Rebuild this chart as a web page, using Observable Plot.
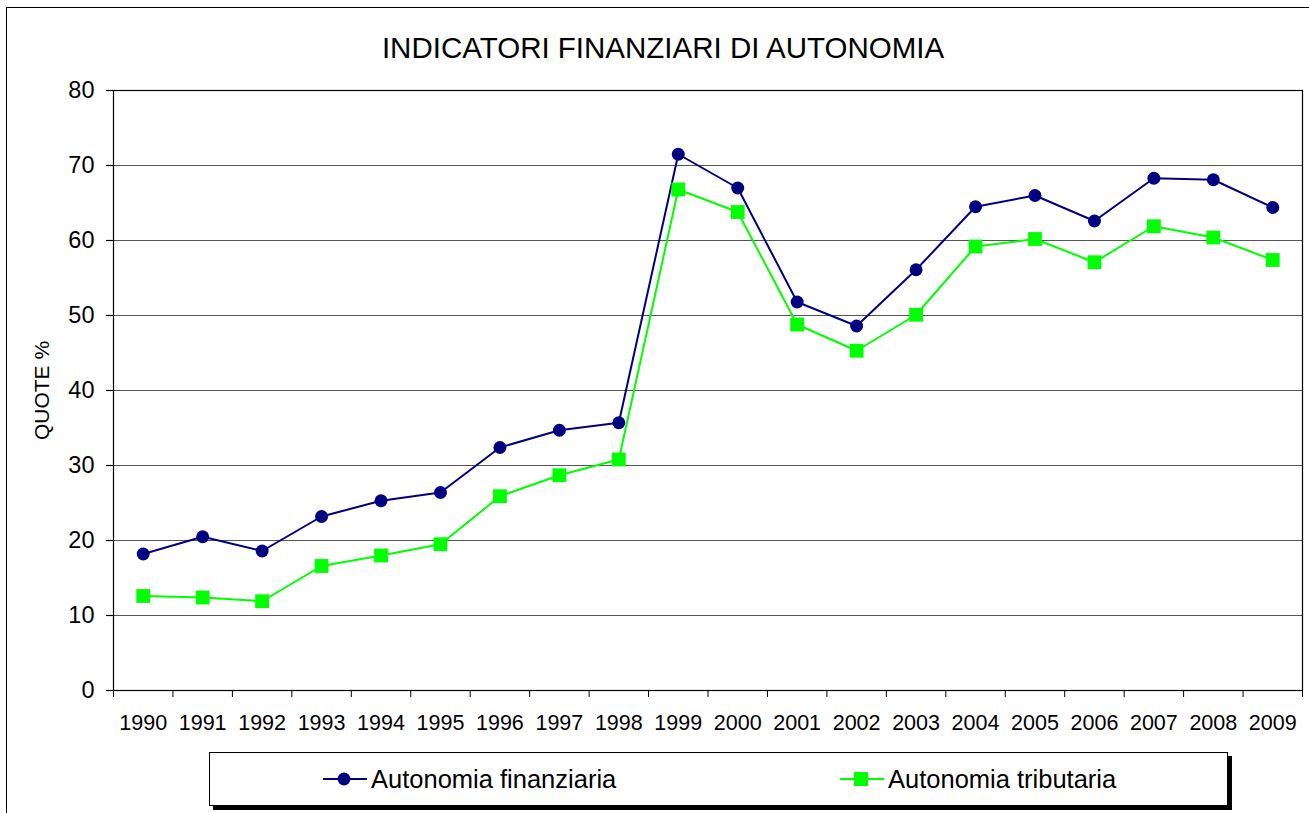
<!DOCTYPE html>
<html>
<head>
<meta charset="utf-8">
<script src="https://cdn.jsdelivr.net/npm/d3@7"></script>
<script src="https://cdn.jsdelivr.net/npm/@observablehq/plot@0.6"></script>
<style>
  html, body { margin: 0; padding: 0; background: #fff; overflow: hidden; }
  body { width: 1309px; height: 813px; position: relative; font-family: "Liberation Sans", Arial, sans-serif; }
  #border { position: absolute; left: 6px; top: 7px; width: 1330px; height: 840px; border: 1px solid #000; box-sizing: border-box; }
  #title { position: absolute; left: 0; width: 1326px; top: 33px; text-align: center; font-size: 29.5px; line-height: 29.5px; color: #000; }
  #chart { position: absolute; left: 0; top: 0; }
  #legend { position: absolute; left: 209px; top: 752px; width: 1019px; height: 54px; border: 1px solid #000; box-sizing: border-box; background: #fff; box-shadow: 4px 4px 0 #000; }
  .item { position: absolute; top: 0; height: 52px; display: flex; align-items: center; font-size: 25.5px; color: #000; }
  .item svg { margin-right: 4px; }
</style>
</head>
<body>
<div id="border"></div>
<div id="chart"></div>
<div id="title">INDICATORI FINANZIARI DI AUTONOMIA</div>
<div id="legend"></div>
<script>
const years = [1990,1991,1992,1993,1994,1995,1996,1997,1998,1999,2000,2001,2002,2003,2004,2005,2006,2007,2008,2009];
const finanziaria = [18.2,20.5,18.6,23.2,25.3,26.4,32.4,34.7,35.7,71.5,67.0,51.8,48.6,56.1,64.5,66.0,62.6,68.3,68.1,64.4];
const tributaria = [12.6,12.4,11.9,16.6,18.0,19.5,25.9,28.7,30.8,66.8,63.8,48.8,45.3,50.1,59.2,60.2,57.1,61.9,60.4,57.4];
const yTicks = [0,10,20,30,40,50,60,70,80];
const seriesNames = ["Autonomia finanziaria", "Autonomia tributaria"];
const seriesColors = ["#000080", "#00FF00"];

const finData = years.map((yr, i) => ({year: yr, value: finanziaria[i]}));
const tribData = years.map((yr, i) => ({year: yr, value: tributaria[i]}));
const boundaries = [...years.map(y => y - 0.5), years[years.length - 1] + 0.5];

const chart = Plot.plot({
  width: 1309,
  height: 740,
  marginLeft: 113,
  marginRight: 7,
  marginTop: 90,
  marginBottom: 50,
  style: {fontFamily: "Liberation Sans, Arial, sans-serif", color: "#000", background: "transparent", overflow: "visible"},
  x: {type: "linear", domain: [boundaries[0], boundaries[boundaries.length - 1]]},
  y: {domain: [yTicks[0], yTicks[yTicks.length - 1]]},
  marks: [
    Plot.gridY(yTicks, {stroke: "#555", strokeOpacity: 1, strokeWidth: 1}),
    Plot.frame({stroke: "#000", strokeWidth: 1.2}),
    Plot.axisY(yTicks, {tickSize: 7, tickPadding: 12, fontSize: 23.5, label: null, stroke: "#000", strokeWidth: 1.2}),
    Plot.axisX(boundaries, {tickSize: 7, tickFormat: () => "", label: null, stroke: "#000"}),
    Plot.axisX(years, {tickSize: 0, tickPadding: 24, tickFormat: d => String(d), fontSize: 21.5, label: null}),
    Plot.text(["QUOTE %"], {frameAnchor: "left", textAnchor: "middle", lineAnchor: "middle", rotate: -90, dx: -71, fontSize: 21, fill: "#000"}),
    Plot.line(finData, {x: "year", y: "value", stroke: seriesColors[0], strokeWidth: 2}),
    Plot.line(tribData, {x: "year", y: "value", stroke: seriesColors[1], strokeWidth: 2}),
    Plot.dot(finData, {x: "year", y: "value", r: 6.5, fill: seriesColors[0], stroke: "none", symbol: "circle"}),
    Plot.dot(tribData, {x: "year", y: "value", r: 7.8, fill: seriesColors[1], stroke: "none", symbol: "square"})
  ]
});
document.getElementById("chart").appendChild(chart);

const legend = document.getElementById("legend");
const positions = [113, 630];
seriesNames.forEach((name, i) => {
  const item = document.createElement("div");
  item.className = "item";
  item.style.left = positions[i] + "px";
  const marker = i === 0
    ? `<circle cx="21" cy="12" r="6.5" fill="${seriesColors[i]}"/>`
    : `<rect x="14" y="5" width="14" height="14" fill="${seriesColors[i]}"/>`;
  item.innerHTML = `<svg width="44" height="24"><line x1="0" x2="44" y1="12" y2="12" stroke="${seriesColors[i]}" stroke-width="2"/>${marker}</svg><span>${name}</span>`;
  legend.appendChild(item);
});
</script>
</body>
</html>
